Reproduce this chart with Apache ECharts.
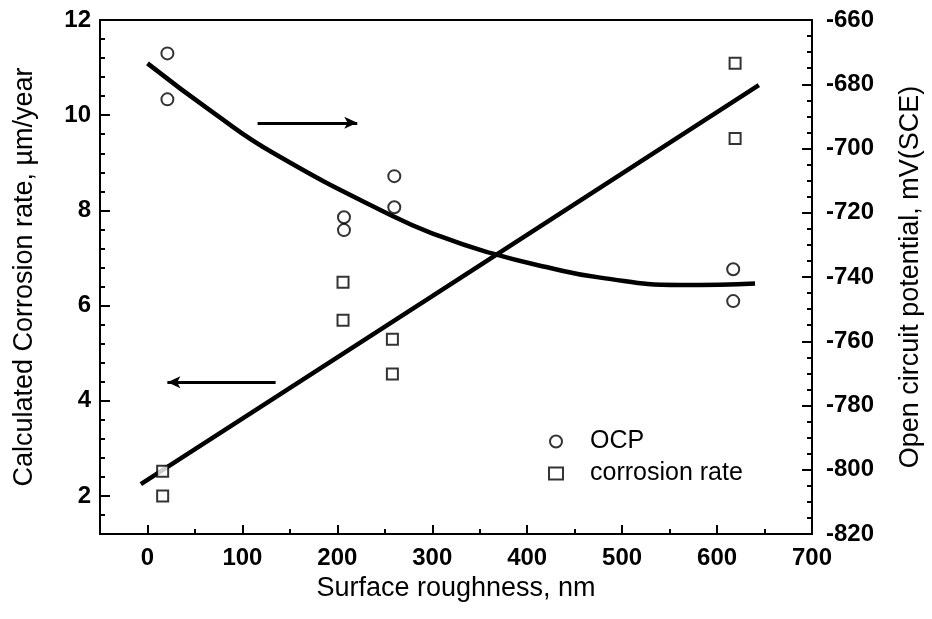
<!DOCTYPE html>
<html><head><meta charset="utf-8">
<script src="https://cdn.jsdelivr.net/npm/echarts@6/dist/echarts.min.js"></script>
<style>html,body{margin:0;padding:0;background:#fff}#c{width:932px;height:619px}</style>
</head><body><div id="c"></div>
<script>
// Measured points
const ocpX = [21, 21, 207, 207, 260, 260, 617, 617];
const ocpY = [-670.4, -684.7, -721.4, -725.4, -708.6, -718.3, -737.6, -747.5];
const corrX = [16, 16, 206, 206, 258, 258, 619, 619];
const corrY = [2.52, 2.0, 6.49, 5.69, 5.29, 4.56, 11.09, 9.51];
// Fitted curves
const ocpFitX = [0, 70, 133, 256, 308, 361, 420, 477, 561, 603, 640];
const ocpFitY = [-673.5, -689, -701.5, -720.7, -727.3, -732.5, -736.9, -740.2, -742.5, -742.4, -742];
const corrFitX = [-7, 300, 644];
const corrFitY = [2.25, 6.2, 10.63];
// Arrow annotations (data units)
const arrowRight = {x: [116, 221], y: 9.84};
const arrowLeft = {x: [135, 21], y: 4.39};
// Ticks
const xLabels = [0, 100, 200, 300, 400, 500, 600, 700];
const yLeftLabels = [2, 4, 6, 8, 10, 12];
const yRightLabels = [-820, -800, -780, -760, -740, -720, -700, -680, -660];

const zip = (a, b) => a.map((v, i) => [v, b[i]]);
const FONT = 'Liberation Sans';
const lab = {color: '#000', fontFamily: FONT, fontSize: 24, fontWeight: 'bold'};
const line = {show: true, onZero: false, lineStyle: {color: '#000', width: 2}};
const title = {color: '#000', fontFamily: FONT, fontSize: 27};

const chart = echarts.init(document.getElementById('c'), null, {renderer: 'canvas'});
chart.setOption({
  animation: false,
  backgroundColor: '#fff',
  grid: {left: 100, right: 120, top: 20, bottom: 85, show: true, borderColor: '#000', borderWidth: 2, backgroundColor: 'transparent'},
  legend: {
    orient: 'vertical', left: 543, top: 424, itemGap: 7, itemWidth: 14, itemHeight: 12,
    data: ['OCP', 'corrosion rate'],
    textStyle: {color: '#000', fontFamily: FONT, fontSize: 25, padding: [0, 0, 0, 22]}
  },
  xAxis: [
    {type: 'value', min: -50, max: 700, interval: 50, position: 'bottom',
     axisLine: line, splitLine: {show: false},
     axisTick: {show: true, inside: true, length: 5, lineStyle: {color: '#000', width: 2}},
     axisLabel: Object.assign({margin: 12, customValues: xLabels}, lab),
     name: 'Surface roughness, nm', nameLocation: 'middle', nameGap: 39, nameTextStyle: title},
    {type: 'value', min: -50, max: 700, position: 'bottom', gridIndex: 0,
     axisLine: {show: false, onZero: false}, splitLine: {show: false}, axisLabel: {show: false},
     axisTick: {show: true, inside: true, length: 9, customValues: xLabels, lineStyle: {color: '#000', width: 2}}}
  ],
  yAxis: [
    {type: 'value', min: 1.2, max: 12, interval: 0.4, position: 'left',
     axisLine: line, splitLine: {show: false},
     axisTick: {show: true, inside: true, length: 5, lineStyle: {color: '#000', width: 2}},
     axisLabel: Object.assign({margin: 9, customValues: yLeftLabels}, lab),
     name: 'Calculated Corrosion rate, \u00b5m/year', nameLocation: 'middle', nameGap: 62, nameRotate: 90,
     nameTextStyle: title},
    {type: 'value', min: -820, max: -660, interval: 5, position: 'right',
     axisLine: line, splitLine: {show: false},
     axisTick: {show: true, inside: true, length: 5, lineStyle: {color: '#000', width: 2}},
     axisLabel: Object.assign({margin: 14, customValues: yRightLabels}, lab),
     name: 'Open circuit potential, mV(SCE)', nameLocation: 'middle', nameGap: 85, nameRotate: 90,
     nameTextStyle: title},
    {type: 'value', min: 1.2, max: 12, position: 'left',
     axisLine: {show: false, onZero: false}, splitLine: {show: false}, axisLabel: {show: false},
     axisTick: {show: true, inside: true, length: 10, customValues: yLeftLabels, lineStyle: {color: '#000', width: 2}}},
    {type: 'value', min: -820, max: -660, position: 'right',
     axisLine: {show: false, onZero: false}, splitLine: {show: false}, axisLabel: {show: false},
     axisTick: {show: true, inside: true, length: 10, customValues: yRightLabels, lineStyle: {color: '#000', width: 2}}}
  ],
  series: [
    {name: 'OCP', type: 'scatter', xAxisIndex: 0, yAxisIndex: 1, data: zip(ocpX, ocpY),
     symbol: 'circle', symbolSize: 12, itemStyle: {color: '#fff', borderColor: '#000', borderWidth: 2}, z: 5},
    {name: 'corrosion rate', type: 'scatter', xAxisIndex: 0, yAxisIndex: 0, data: zip(corrX, corrY),
     symbol: 'rect', symbolSize: 11, itemStyle: {color: '#fff', borderColor: '#000', borderWidth: 2}, z: 5},
    {name: 'OCP fit', type: 'line', xAxisIndex: 0, yAxisIndex: 1, data: zip(ocpFitX, ocpFitY),
     smooth: true, showSymbol: false, lineStyle: {color: '#000', width: 4.5}, z: 3},
    {name: 'corrosion fit', type: 'line', xAxisIndex: 0, yAxisIndex: 0, data: zip(corrFitX, corrFitY),
     smooth: true, showSymbol: false, lineStyle: {color: '#000', width: 4.5}, z: 3,
     markLine: {silent: true, symbol: ['none', 'arrow'], symbolSize: [9, 13], label: {show: false},
       lineStyle: {color: '#000', width: 3, type: 'solid'},
       data: [
         [{coord: [arrowRight.x[0], arrowRight.y]}, {coord: [arrowRight.x[1], arrowRight.y]}],
         [{coord: [arrowLeft.x[0], arrowLeft.y]}, {coord: [arrowLeft.x[1], arrowLeft.y]}]
       ]}}
  ]
});
</script></body></html>
